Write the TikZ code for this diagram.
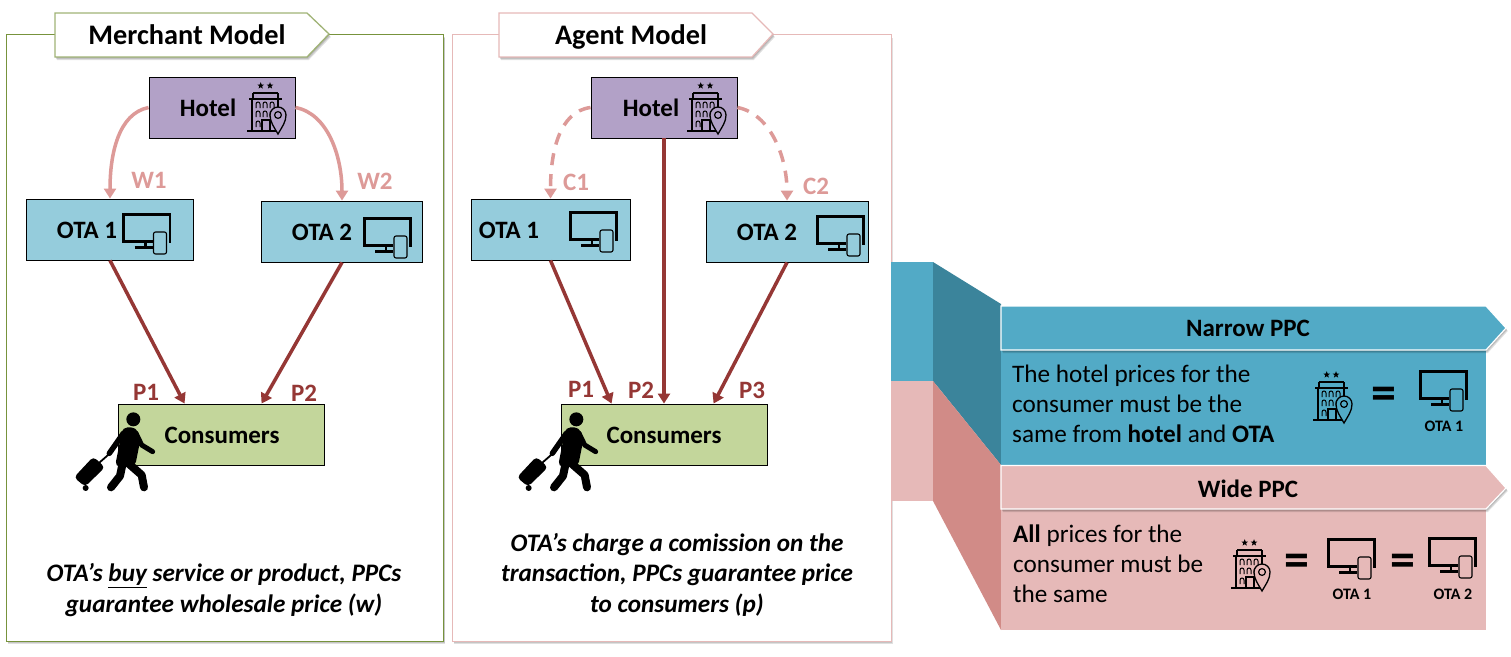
\documentclass[tikz,border=0pt]{standalone}
\usepackage{fontspec}
\setmainfont{Carlito}
\usetikzlibrary{arrows.meta,calc}
\definecolor{hotelfill}{HTML}{B2A1C7}
\definecolor{otafill}{HTML}{95CCDC}
\definecolor{consfill}{HTML}{C3D69B}
\definecolor{bandteal}{HTML}{52AAC6}
\definecolor{tealdark}{HTML}{3B849B}
\definecolor{rose}{HTML}{E6B9B8}
\definecolor{rosedark}{HTML}{D18B87}
\definecolor{paleline}{HTML}{DD9A98}
\definecolor{darkred}{HTML}{953735}
\definecolor{frameolive}{HTML}{77933C}
\newcommand{\sz}[2]{\fontsize{#1}{#2}\selectfont}
% small five-pointed star, point upward on the flipped y axis
\newcommand{\hstar}[2]{\fill (#1,#2) +(270:3.5) -- +(306:1.5) -- +(342:3.5) -- +(18:1.5) -- +(54:3.5) -- +(90:1.5) -- +(126:3.5) -- +(162:1.5) -- +(198:3.5) -- +(234:1.5) -- cycle;}
% soft cast shadow of a closed path, laid down in three thin layers
\newcommand{\softcast}[1]{\foreach \d in {1,2,3}{\fill[black,opacity=.12,shift={(\d*.6,\d)}] #1;}}
\tikzset{
  framebox/.style={fill=white,line width=.9pt},
  titlebox/.style={fill=white,line width=1.3pt},
  titletext/.style={font=\bfseries\sz{28.3}{32},anchor=base,inner sep=0pt},
  hotelbox/.style={draw=black,line width=.9pt,fill=hotelfill,minimum width=146pt,minimum height=61pt,inner sep=0pt},
  otabox/.style={draw=black,line width=.9pt,fill=otafill,minimum height=61pt,inner sep=0pt},
  consbox/.style={draw=black,line width=.9pt,fill=consfill,minimum width=206pt,minimum height=61pt,inner sep=0pt},
  boxtext/.style={font=\bfseries\sz{25}{28},inner sep=0pt},
  wholesale/.style={draw=paleline,line width=3.5pt,-{Triangle[width=12pt,length=10pt]}},
  commission/.style={wholesale,dash pattern=on 12pt off 9pt},
  price/.style={draw=darkred,line width=3.5pt,-{Triangle[width=12pt,length=10pt]}},
  palelabel/.style={text=paleline,font=\bfseries\sz{25}{28},inner sep=0pt},
  pricelabel/.style={text=darkred,font=\bfseries\sz{25}{28},inner sep=0pt},
  caption/.style={font=\bfseries\itshape\sz{25.2}{30.5},align=center,inner sep=0pt},
  bodytext/.style={font=\sz{25.2}{30},align=left,inner sep=0pt,anchor=west},
  headtext/.style={font=\bfseries\sz{25}{27},inner sep=0pt},
  equalsign/.style={font=\bfseries\sz{50}{50},inner sep=0pt},
  smalllabel/.style={font=\bfseries\sz{16}{18},inner sep=0pt},
  pics/hotelicon/.style={code={
    \begin{scope}[draw=black,fill=black,line width=1.1pt]
      \hstar{13.7}{3.7}\hstar{23}{3.7}
      \draw[line width=1.5pt] (6,11) -- (31,11) (6,11) -- (6,16.5) (31,11) -- (31,16.5);
      \draw[line width=2pt] (2,16.5) -- (35,16.5);
      \draw[line width=1.5pt] (5,16.5) -- (5,49) (31,16.5) -- (31,30);
      \draw[line width=2pt] (0,49) -- (30,49);
      \foreach \y in {26,35}\foreach \x in {9,16,23}{
        \draw[line width=1pt] (\x,\y) -- (\x,\y-4) arc[start angle=180,end angle=360,radius=2] -- (\x+4,\y);}
      \draw[line width=1pt] (9,45) -- (9,41) arc[start angle=180,end angle=360,radius=2] -- (13,45);
      \draw[line width=1.2pt] (15,49) -- (15,38) -- (23,38) -- (23,49);
      \draw[line width=1.3pt,fill=#1] (31,52) .. controls (27,45) and (23,40) .. (23,33) arc[start angle=180,end angle=360,radius=8] .. controls (39,40) and (35,45) .. (31,52) -- cycle;
      \draw[line width=1.2pt,fill=#1] (31,33) circle[radius=3.4];
    \end{scope}}},
  pics/screenicon/.style={code={
    \draw[line width=2.8pt,line cap=butt] (30,28.5) -- (1.3,28.5) -- (1.3,1.3) -- (47.5,1.3) -- (47.5,30);
    \draw[line width=2.2pt] (23,28.5) -- (23,34);
    \draw[line width=3pt] (12,34.5) -- (30,34.5);
    \draw[line width=1.1pt,fill=#1,rounded corners=2pt] (31,19) rectangle (44,41);}},
  pics/traveller/.style={code={
    \begin{scope}[scale=.3333,line cap=round,line join=round]
      \fill (220,148) circle[radius=21];
      \fill[rounded corners=5pt] (188,172) -- (228,172) -- (242,205) -- (225,290) -- (165,290) -- cycle;
      \draw[line width=5.5pt] (190,190) -- (148,250);
      \draw[line width=5pt] (228,190) -- (245,225) -- (278,245);
      \draw[line width=8pt] (188,280) -- (180,318) -- (153,352);
      \draw[line width=8pt] (205,280) -- (245,315) -- (252,352);
      \draw[line width=1.8pt] (118,278) -- (150,250);
      \fill[rounded corners=4pt] (42,322) -- (100,260) -- (135,292) -- (75,350) -- cycle;
      \fill (77,354) circle[radius=9];
    \end{scope}}}
}
\begin{document}
\begin{tikzpicture}[x=1pt,y=-1pt]
\useasboundingbox (0,0) rectangle (1511,656);

% outer panels
\softcast{(6.5,35) rectangle (443.5,641)}
\softcast{(452.5,35) rectangle (891,641)}
\path[framebox,draw=frameolive] (6.5,34.5) rectangle (443.5,641);
\path[framebox,draw=rose] (452.5,34.5) rectangle (891,641);

% panel titles
\softcast{(55,13) -- (307,13) -- (329,34) -- (307,57) -- (55,57) -- cycle}
\path[titlebox,draw=frameolive!70!white] (55,13) -- (307,13) -- (329,34) -- (307,57) -- (55,57) -- cycle;
\node[titletext] (merchantTitle) at (187,44.3) {Merchant Model};
\softcast{(499,13) -- (752,13) -- (773,34) -- (752,57) -- (499,57) -- cycle}
\path[titlebox,draw=rose] (499,13) -- (752,13) -- (773,34) -- (752,57) -- (499,57) -- cycle;
\node[titletext] (agentTitle) at (631,44.3) {Agent Model};

% merchant model boxes
\node[hotelbox] (hotelM) at (222,107.5) {};
\node[otabox,minimum width=167pt] (ota1M) at (110,229.5) {};
\node[otabox,minimum width=161pt] (ota2M) at (342,231.5) {};
\node[consbox] (consM) at (221,434.5) {};
\node[boxtext] (hotelMText) at (208,108) {Hotel};
\node[boxtext] (ota1MText) at (87,230) {OTA 1};
\node[boxtext] (ota2MText) at (322,232) {OTA 2};
\node[boxtext] (consMText) at (222,435.5) {Consumers};
\pic at (247,82) {hotelicon={hotelfill}};
\pic at (122.5,213) {screenicon={otafill}};
\pic at (363,217) {screenicon={otafill}};
\pic at (60,370) {traveller};

% merchant model connectors
\coordinate (consM1) at ($(consM.north west)+(67,0)$);
\coordinate (consM2) at ($(consM.north west)+(144,0)$);
\draw[wholesale] (hotelM.west) .. controls +(-30,6) and +(0,-45) .. (ota1M.north);
\draw[wholesale] (hotelM.east) .. controls +(32,6) and +(0,-45) .. (ota2M.north);
\draw[price] (ota1M.south) -- (consM1);
\draw[price] (ota2M.south) -- (consM2);
\node[palelabel] (w1) at (149,180.5) {W1};
\node[palelabel] (w2) at (375,181.5) {W2};
\node[pricelabel] (p1M) at (146,392.5) {P1};
\node[pricelabel] (p2M) at (304,393.5) {P2};

% agent model boxes
\node[hotelbox] (hotelA) at (664,107.5) {};
\node[otabox,minimum width=159pt] (ota1A) at (550.5,229.5) {};
\node[otabox,minimum width=162pt] (ota2A) at (787,231.5) {};
\node[consbox] (consA) at (664,434.5) {};
\node[boxtext] (hotelAText) at (651,108) {Hotel};
\node[boxtext] (ota1AText) at (509,230) {OTA 1};
\node[boxtext] (ota2AText) at (767,232) {OTA 2};
\node[boxtext] (consAText) at (664,435.5) {Consumers};
\pic at (687,82) {hotelicon={hotelfill}};
\pic at (569,211) {screenicon={otafill}};
\pic at (816,215) {screenicon={otafill}};
\pic at (503,370) {traveller};

% agent model connectors
\coordinate (consA1) at ($(consA.north west)+(51,0)$);
\coordinate (consA3) at ($(consA.north west)+(153,0)$);
\draw[commission] (hotelA.west) .. controls +(-32,4) and +(0,-45) .. (ota1A.north);
\draw[commission] (hotelA.east) .. controls +(32,6) and +(0,-45) .. (ota2A.north);
\draw[price] (ota1A.south) -- (consA1);
\draw[price] (hotelA.south) -- (consA.north);
\draw[price] (ota2A.south) -- (consA3);
\node[palelabel] (c1) at (576,182.5) {C1};
\node[palelabel] (c2) at (816,186.5) {C2};
\node[pricelabel] (p1A) at (581,389.5) {P1};
\node[pricelabel] (p2A) at (641,390.5) {P2};
\node[pricelabel] (p3A) at (752,390.5) {P3};

% panel captions
\node[caption] (captionM) at (224,590) {OTA’s \underline{buy} service or product, PPCs\\guarantee wholesale price (w)};
\node[caption] (captionA) at (677,574.5) {OTA’s charge a comission on the\\transaction, PPCs guarantee price\\to consumers (p)};

% fold-out bands
\fill[bandteal] (891,262) rectangle (933,381);
\fill[rose] (891,381) rectangle (933,501);
\fill[tealdark] (933,262) -- (1001,304) -- (1001,465) -- (933,381) -- cycle;
\fill[rosedark] (933,381) -- (1001,465) -- (1001,630) -- (933,501) -- cycle;

% narrow PPC
\fill[bandteal] (1001,340) rectangle (1486,465);
\softcast{(1001,306) -- (1486,306) -- (1506,328) -- (1486,350) -- (1001,350) -- cycle}
\path[fill=bandteal,draw=white,line width=1.2pt] (1001,306) -- (1486,306) -- (1506,328) -- (1486,350) -- (1001,350) -- cycle;
\node[headtext] (narrowHead) at (1248,328.5) {Narrow PPC};
\node[bodytext] (narrowBody) at (1012,404) {The hotel prices for the\\consumer must be the\\same from \textbf{hotel} and \textbf{OTA}};
\pic at (1313,371) {hotelicon={bandteal}};
\node[equalsign] (narrowEq) at (1384,398) {=};
\pic at (1419,370) {screenicon={bandteal}};
\node[smalllabel] (narrowOta) at (1444,426) {OTA 1};

% wide PPC
\fill[rose] (1001,500) rectangle (1486,630);
\softcast{(1001,465.5) -- (1486,465.5) -- (1506,488) -- (1486,509) -- (1001,509) -- cycle}
\path[fill=rose,draw=white,line width=1.2pt] (1001,465.5) -- (1486,465.5) -- (1506,488) -- (1486,509) -- (1001,509) -- cycle;
\node[headtext] (wideHead) at (1248,488.5) {Wide PPC};
\node[bodytext] (wideBody) at (1013,564) {\textbf{All} prices for the\\consumer must be\\the same};
\pic at (1231,539) {hotelicon={rose}};
\node[equalsign] (wideEq1) at (1297,565) {=};
\pic at (1327,538) {screenicon={rose}};
\node[equalsign] (wideEq2) at (1403,565) {=};
\pic at (1428,537) {screenicon={rose}};
\node[smalllabel] (wideOta1) at (1352,594) {OTA 1};
\node[smalllabel] (wideOta2) at (1453,594) {OTA 2};
\end{tikzpicture}
\end{document}
